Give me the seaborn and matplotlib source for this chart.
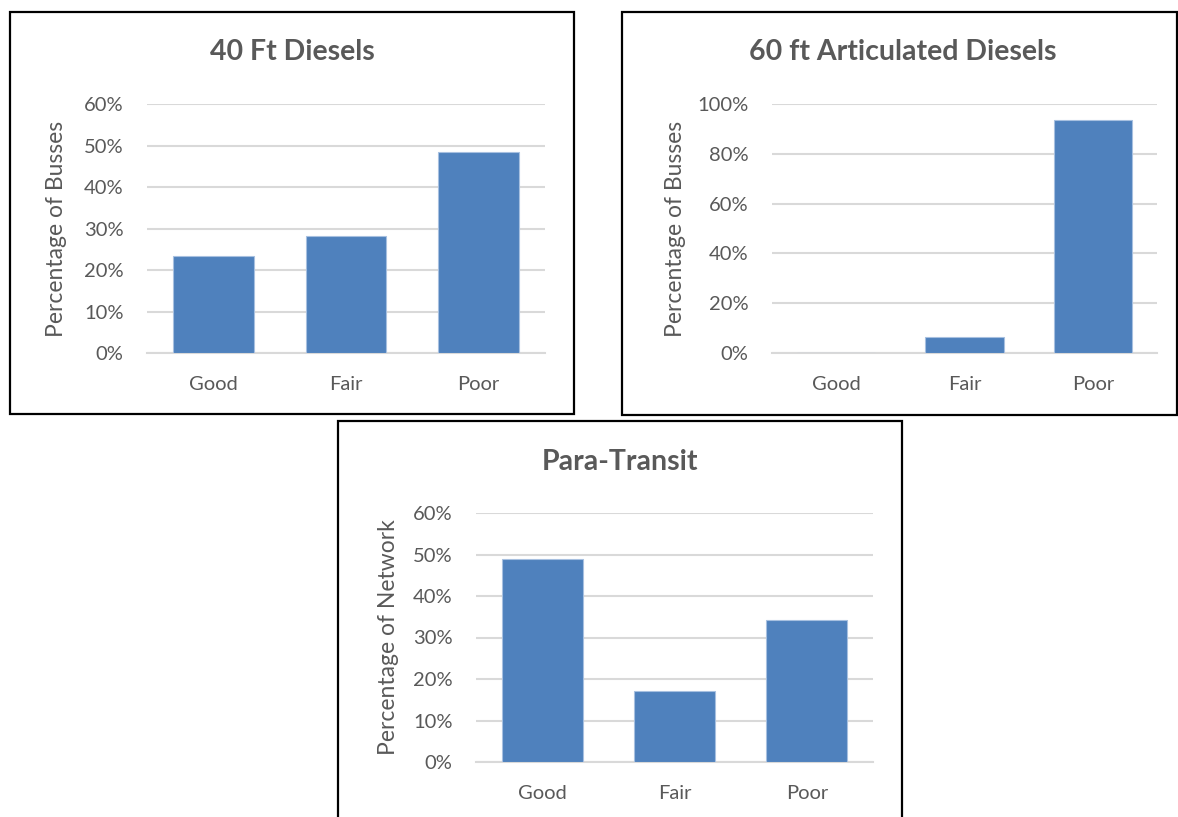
import matplotlib
matplotlib.use("Agg")
import matplotlib.pyplot as plt
from matplotlib.patches import Rectangle
from matplotlib.ticker import PercentFormatter
import seaborn as sns
import pandas as pd

sns.set_theme(style="white")
plt.rcParams["font.family"] = ["Lato", "DejaVu Sans"]

# Condition ratings for each fleet
categories = ["Good", "Fair", "Poor"]
diesel_40ft = [23.3, 28.2, 48.5]
articulated_60ft = [0.0, 6.25, 93.75]
para_transit = [48.9, 17.0, 34.1]

titles = ["40 Ft Diesels", "60 ft Articulated Diesels", "Para-Transit"]
ylabels = ["Percentage of Busses", "Percentage of Busses", "Percentage of Network"]
ymaxes = [60, 100, 60]
ysteps = [10, 20, 10]

W, H = 1178, 817
BAR = "#4F81BD"
GRID = "#D9D9D9"
TXT = "#595959"

fig = plt.figure(figsize=(W / 100, H / 100), dpi=100)


def px_axes(x0, y0, x1, y1):
    return fig.add_axes([x0 / W, 1 - y1 / H, (x1 - x0) / W, (y1 - y0) / H])


def px_box(x0, y0, x1, y1):
    fig.patches.append(Rectangle((x0 / W, 1 - y1 / H), (x1 - x0) / W, (y1 - y0) / H,
                                 transform=fig.transFigure, fill=False,
                                 edgecolor="black", linewidth=1.6, zorder=10))


# chart frames, plot areas, title positions and y-label offsets (pixels)
layout = [
    dict(box=(10, 12, 574, 414), plot=(147, 104, 545, 353), title=(292, 52), ylx=67),
    dict(box=(622, 12, 1177, 415), plot=(772, 104, 1157, 353), title=(903, 52), ylx=686),
    dict(box=(338, 421, 902, 830), plot=(476, 513, 873, 762), title=(620, 462), ylx=399),
]
series = [diesel_40ft, articulated_60ft, para_transit]

for vals, lay, title, ylab, ymax, ystep in zip(series, layout, titles, ylabels, ymaxes, ysteps):
    px_box(*lay["box"])
    x0, y0, x1, y1 = lay["plot"]
    ax = px_axes(x0, y0, x1, y1)
    df = pd.DataFrame({"Condition": categories, "Percent": vals})
    sns.barplot(data=df, x="Condition", y="Percent", color=BAR, saturation=1,
                width=0.61, edgecolor="#A7C0E0", linewidth=0.8, ax=ax, zorder=3)
    ax.set_xlim(-0.5, 2.5)
    ax.set_ylim(0, ymax)
    ax.set_yticks(range(0, ymax + 1, ystep))
    ax.yaxis.set_major_formatter(PercentFormatter(decimals=0))
    ax.grid(axis="y", color=GRID, linewidth=1.5, zorder=0)
    ax.grid(axis="x", visible=False)
    for s in ["top", "right", "left"]:
        ax.spines[s].set_visible(False)
    ax.spines["bottom"].set_color(GRID)
    ax.spines["bottom"].set_linewidth(1.5)
    ax.tick_params(axis="y", length=0, pad=17, labelsize=14.5, labelcolor=TXT)
    ax.tick_params(axis="x", length=0, pad=16.5, labelsize=14.5, labelcolor=TXT)
    ax.set_xlabel("")
    ax.set_ylabel(ylab, fontsize=16.5, color=TXT)
    ax.yaxis.set_label_coords((lay["ylx"] - x0) / (x1 - x0), 0.5)
    tx, ty = lay["title"]
    fig.text(tx / W, 1 - ty / H, title, ha="center", va="center",
             fontsize=20.5, fontweight="bold", color=TXT)

fig.savefig("out.png", dpi=100, facecolor="white")
